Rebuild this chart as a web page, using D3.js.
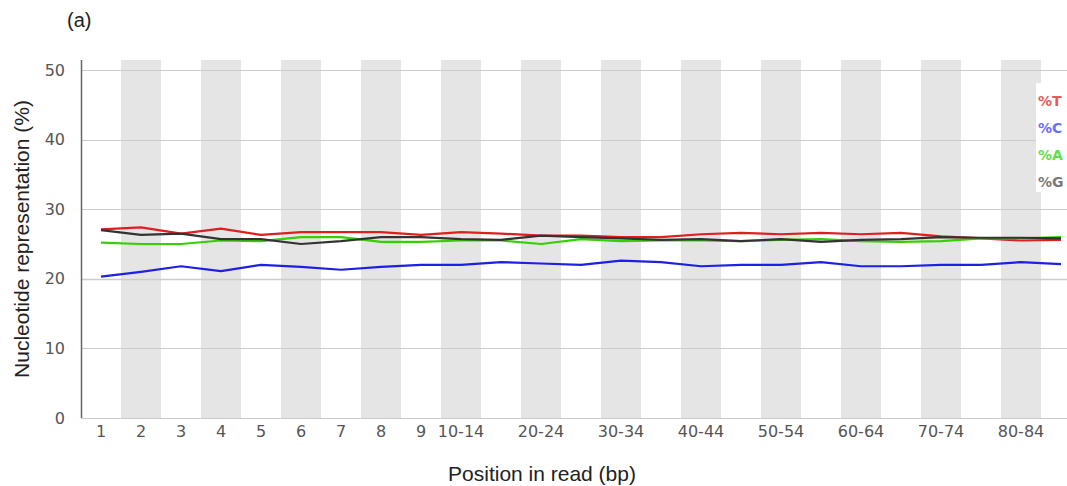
<!DOCTYPE html>
<html>
<head>
<meta charset="utf-8">
<script src="https://cdn.jsdelivr.net/npm/d3@7"></script>
<style>
  body { margin: 0; background: #fff; }
  svg { display: block; }
</style>
</head>
<body>
<svg id="chart" width="1067" height="486"></svg>
<script>
// podatki ------------------------------------------------------------
var categories = ["1","2","3","4","5","6","7","8","9",
  "10-14","15-19","20-24","25-29","30-34","35-39","40-44","45-49",
  "50-54","55-59","60-64","65-69","70-74","75-79","80-84","85-89"];
var shownLabels = ["1","2","3","4","5","6","7","8","9",
  "10-14","20-24","30-34","40-44","50-54","60-64","70-74","80-84"];
var yTicks = [0, 10, 20, 30, 40, 50];

var pctT = [27.1,27.4,26.5,27.2,26.3,26.7,26.7,26.7,26.3,26.7,26.5,26.2,
  26.2,26.0,26.0,26.4,26.6,26.4,26.6,26.4,26.6,26.1,25.8,25.5,25.6];
var pctC = [20.3,21.0,21.8,21.1,22.0,21.7,21.3,21.7,22.0,22.0,22.4,22.2,
  22.0,22.6,22.4,21.8,22.0,22.0,22.4,21.8,21.8,22.0,22.0,22.4,22.1];
var pctA = [25.2,25.0,25.0,25.5,25.4,26.0,26.0,25.3,25.3,25.5,25.5,25.0,
  25.7,25.4,25.5,25.5,25.4,25.6,25.7,25.4,25.3,25.4,25.8,25.8,26.0];
var pctG = [27.0,26.3,26.5,25.7,25.7,25.0,25.4,26.0,26.0,25.7,25.6,26.2,
  26.0,25.8,25.6,25.7,25.4,25.7,25.3,25.6,25.7,26.0,25.9,25.9,25.8];

var seriesNames = ["%T", "%C", "%A", "%G"];
var seriesData = [pctT, pctC, pctA, pctG];
var lineColors = ["#dd1f1f", "#1f1fe6", "#33d100", "#333333"];
var legendColors = ["#e65a5a", "#6c6cff", "#5ee04e", "#7a7a7a"];

// layout --------------------------------------------------------------
var margin = {top: 60, left: 81, bottom: 418};
var svg = d3.select("#chart");

var x = d3.scaleBand()
  .domain(categories)
  .range([81, 1081])
  .padding(0);

var y = d3.scaleLinear()
  .domain([0, 50])
  .range([418, 70]);

// sive proge
svg.append("g")
  .selectAll("rect")
  .data(categories.filter(function(d, i){ return i % 2 == 1; }))
  .enter().append("rect")
    .attr("x", function(d){ return x(d); })
    .attr("y", margin.top)
    .attr("width", x.bandwidth())
    .attr("height", margin.bottom - margin.top)
    .attr("fill", "#e5e5e5");

// mreza
svg.append("g")
  .selectAll("line")
  .data(yTicks)
  .enter().append("line")
    .attr("x1", margin.left)
    .attr("x2", 1081)
    .attr("y1", function(d){ return Math.round(y(d)) + 0.5; })
    .attr("y2", function(d){ return Math.round(y(d)) + 0.5; })
    .attr("stroke", "#cccccc")
    .attr("stroke-width", function(d){ return d == 20 ? 1.6 : 1.2; });

// y os
var yAxis = svg.append("g")
  .attr("transform", "translate(" + margin.left + ",0)")
  .call(d3.axisLeft(y).tickValues(yTicks).tickSize(0).tickPadding(16));
yAxis.select(".domain").remove();
yAxis.selectAll("text")
  .attr("font-family", "DejaVu Sans")
  .attr("font-size", "16px")
  .attr("fill", "#555");

svg.append("line")
  .attr("x1", margin.left + 0.5)
  .attr("x2", margin.left + 0.5)
  .attr("y1", margin.top)
  .attr("y2", margin.bottom)
  .attr("stroke", "#666")
  .attr("stroke-width", 1.5);

// x os
var xAxis = svg.append("g")
  .attr("transform", "translate(0," + margin.bottom + ")")
  .call(d3.axisBottom(x).tickValues(shownLabels).tickSize(0).tickPadding(8));
xAxis.select(".domain").remove();
xAxis.selectAll("text")
  .attr("font-family", "DejaVu Sans")
  .attr("font-size", "16px")
  .attr("fill", "#555");

// crte
var line = d3.line()
  .x(function(d, i){ return x(categories[i]) + x.bandwidth() / 2; })
  .y(function(d){ return y(d); });

svg.append("g")
  .selectAll("path")
  .data(seriesData)
  .enter().append("path")
    .attr("d", line)
    .attr("fill", "none")
    .attr("stroke", function(d, i){ return lineColors[i]; })
    .attr("stroke-width", 2.2)
    .attr("stroke-linejoin", "round");

// legenda
var leg = svg.append("g").attr("transform", "translate(1036,83)");
leg.append("rect")
  .attr("width", 40)
  .attr("height", 109)
  .attr("fill", "#fff");
leg.selectAll("text")
  .data(seriesNames)
  .enter().append("text")
    .attr("x", 2)
    .attr("y", function(d, i){ return 23 + i * 27; })
    .attr("font-family", "DejaVu Sans")
    .attr("font-size", "14px")
    .attr("font-weight", "bold")
    .attr("fill", function(d, i){ return legendColors[i]; })
    .text(function(d){ return d; });

// napisi
svg.append("text")
  .attr("x", 67)
  .attr("y", 27)
  .attr("font-family", "Liberation Sans")
  .attr("font-size", "20px")
  .attr("fill", "#222")
  .text("(a)");

svg.append("text")
  .attr("x", 542)
  .attr("y", 481)
  .attr("text-anchor", "middle")
  .attr("font-family", "Liberation Sans")
  .attr("font-size", "21px")
  .attr("fill", "#222")
  .text("Position in read (bp)");

svg.append("text")
  .attr("transform", "translate(29,239) rotate(-90)")
  .attr("text-anchor", "middle")
  .attr("font-family", "Liberation Sans")
  .attr("font-size", "21px")
  .attr("fill", "#222")
  .text("Nucleotide representation (%)");
</script>
</body>
</html>
